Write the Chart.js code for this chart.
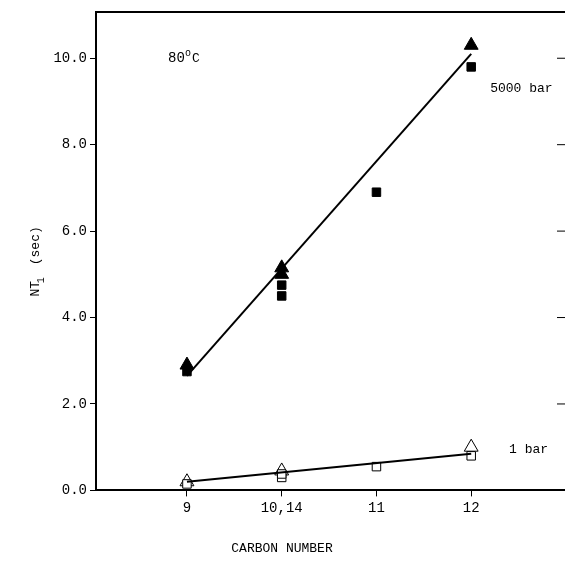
<!DOCTYPE html>
<html><head><meta charset="utf-8">
<script src="https://cdn.jsdelivr.net/npm/chart.js@4/dist/chart.umd.min.js"></script>
<style>html,body{margin:0;background:#fff;overflow:hidden}#c{display:block}</style>
</head><body>
<div style="width:574px;height:562px"><canvas id="c"></canvas></div>
<script>
// carbon number positions (10,14 mixture plotted at 10)
const xTicks = [9, 10, 11, 12];
const xLabels = {9: '9', 10: '10,14', 11: '11', 12: '12'};
const yTicks = [0, 2, 4, 6, 8, 10];

// 5000 bar
const triHiX = [9, 10, 10, 12];
const triHiY = [2.9, 5.15, 5.0, 10.3];
const sqHiX = [9, 10, 10, 11, 12];
const sqHiY = [2.75, 4.75, 4.5, 6.9, 9.8];
const lineHiX = [9, 12];
const lineHiY = [2.65, 10.1];

// 1 bar
const triLoX = [9, 10, 12];
const triLoY = [0.2, 0.45, 1.0];
const sqLoX = [9, 10, 10, 11, 12];
const sqLoY = [0.15, 0.3, 0.38, 0.55, 0.8];
const lineLoX = [9, 12];
const lineLoY = [0.2, 0.85];

const pts = (xs, ys) => xs.map((x, i) => ({x, y: ys[i]}));
const FONT = 'Liberation Mono';

const labels = {
  id: 'labels',
  afterDraw(chart) {
    const {ctx, chartArea: ca, scales: {x, y}} = chart;
    const right = 565;
    ctx.save();
    ctx.strokeStyle = '#000';
    ctx.lineWidth = 2;
    ctx.beginPath();
    ctx.moveTo(ca.left, ca.top); ctx.lineTo(ca.right, ca.top);
    ctx.stroke();
    ctx.lineWidth = 1;
    yTicks.forEach(v => {
      const py = y.getPixelForValue(v);
      ctx.beginPath(); ctx.moveTo(right - 8, py); ctx.lineTo(right, py); ctx.stroke();
    });
    ctx.fillStyle = '#000';
    ctx.font = '14px "' + FONT + '"';
    ctx.textBaseline = 'middle';
    const bx = x.getPixelForValue(8.8), by = y.getPixelForValue(10.0);
    ctx.fillText('80', bx, by);
    ctx.font = '10px "' + FONT + '"';
    ctx.fillText('o', bx + 17, by - 5);
    ctx.font = '13px "' + FONT + '"';
    ctx.fillText('C', bx + 24, by);
    ctx.fillText('5000 bar', x.getPixelForValue(12.2), y.getPixelForValue(9.3));
    ctx.fillText('1 bar', x.getPixelForValue(12.4), y.getPixelForValue(0.95));
    ctx.textAlign = 'center';
    ctx.fillText('CARBON NUMBER', 282, 549);
    // y title
    ctx.translate(36, y.getPixelForValue(5.3));
    ctx.rotate(-Math.PI / 2);
    ctx.fillText('NT  (sec)', 0, 0);
    ctx.font = '10px "' + FONT + '"';
    ctx.fillText('1', -19, 5);
    ctx.restore();
  }
};

new Chart(document.getElementById('c'), {
  type: 'scatter',
  data: {
    datasets: [
      {data: pts(lineHiX, lineHiY), showLine: true, borderColor: '#000', borderWidth: 2, pointRadius: 0},
      {data: pts(lineLoX, lineLoY), showLine: true, borderColor: '#000', borderWidth: 2, pointRadius: 0},
      {data: pts(sqHiX, sqHiY), pointStyle: 'rect', pointRadius: 6, backgroundColor: '#000', borderColor: '#000'},
      {data: pts(triHiX, triHiY), pointStyle: 'triangle', pointRadius: 8, backgroundColor: '#000', borderColor: '#000'},
      {data: pts(sqLoX, sqLoY), pointStyle: 'rect', pointRadius: 6, backgroundColor: '#fff', borderColor: '#000', borderWidth: 1},
      {data: pts(triLoX, triLoY), pointStyle: 'triangle', pointRadius: 8, backgroundColor: 'rgba(255,255,255,0)', borderColor: '#000', borderWidth: 1}
    ]
  },
  options: {
    responsive: true, maintainAspectRatio: false, animation: false,
    layout: {padding: {top: 12, right: 0, left: 0, bottom: 0}},
    plugins: {legend: {display: false}, tooltip: {enabled: false}},
    scales: {
      x: {
        min: 8.04, max: 12.99,
        afterBuildTicks: a => { a.ticks = xTicks.map(v => ({value: v})); },
        ticks: {callback: v => xLabels[v], color: '#000', font: {family: FONT, size: 14}, maxRotation: 0},
        grid: {drawOnChartArea: false, tickLength: 6, color: '#000'},
        border: {color: '#000', width: 2},
        title: {display: true, text: 'CARBON NUMBER', color: 'rgba(0,0,0,0)', font: {family: FONT, size: 14}, padding: {top: 22}}
      },
      y: {
        min: 0, max: 11.07,
        afterBuildTicks: a => { a.ticks = yTicks.map(v => ({value: v})); },
        afterFit: a => { a.width = 96; },
        ticks: {callback: v => v.toFixed(1), color: '#000', font: {family: FONT, size: 14}},
        grid: {drawOnChartArea: false, tickLength: 6, color: '#000'},
        border: {color: '#000', width: 2}
      }
    }
  },
  plugins: [labels]
});
</script>
</body></html>
